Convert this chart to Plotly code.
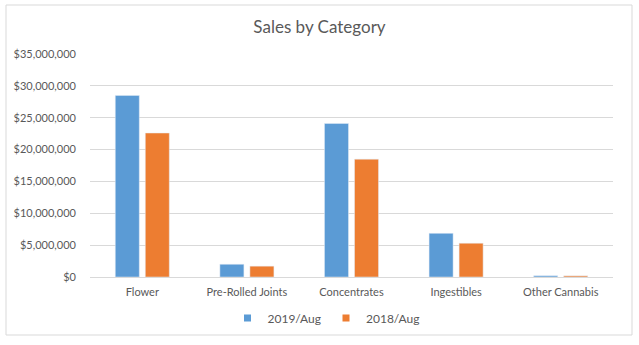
import plotly.graph_objects as go

categories = ["Flower", "Pre-Rolled Joints", "Concentrates", "Ingestibles", "Other Cannabis"]
sales_2019 = [28500000, 2000000, 24100000, 6850000, 200000]
sales_2018 = [22600000, 1700000, 18500000, 5300000, 180000]
series_names = ["2019/Aug", "2018/Aug"]
series_colors = ["#5b9bd5", "#ed7d31"]
y_ticks = [0, 5000000, 10000000, 15000000, 20000000, 25000000, 30000000, 35000000]
y_tick_labels = ["$0", "$5,000,000", "$10,000,000", "$15,000,000", "$20,000,000",
                 "$25,000,000", "$30,000,000", "$35,000,000"]

W, H = 639, 345
ML, MR, MT, MB = 90, 26, 54, 68
PW, PH = W - ML - MR, H - MT - MB

FONT = "Lato, Calibri, sans-serif"
TXT = "#595959"
GRID = "#d9d9d9"

fig = go.Figure()
for name, vals, col in zip(series_names, [sales_2019, sales_2018], series_colors):
    fig.add_trace(go.Bar(name=name, x=categories, y=vals, marker_color=col,
                         showlegend=False))
# small square legend keys
for name, col in zip(series_names, series_colors):
    fig.add_trace(go.Scatter(name=name, x=[None], y=[None], mode="markers",
                             marker=dict(symbol="square", size=7, color=col),
                             showlegend=True))


def px_to_paper_x(px):
    return (px - ML) / PW


def px_to_paper_y(py):
    return (H - MB - py) / PH


fig.update_layout(
    width=W, height=H,
    margin=dict(l=ML, r=MR, t=MT, b=MB),
    paper_bgcolor="white", plot_bgcolor="white",
    barmode="group", bargap=0.426, bargroupgap=0.2,
    font=dict(family=FONT, size=11, color=TXT),
    title=dict(text="Sales by Category", x=0.5, xref="container", xanchor="center",
               y=1 - 27 / H, yref="container", yanchor="middle",
               font=dict(family=FONT, size=17, color=TXT)),
    showlegend=True,
    legend=dict(orientation="h", x=px_to_paper_x(326), xanchor="center",
                y=px_to_paper_y(318), yanchor="middle",
                font=dict(family=FONT, size=12, color=TXT),
                itemwidth=30, traceorder="normal"),
    xaxis=dict(showgrid=False, showline=True, linecolor=GRID, linewidth=1,
               ticks="", ticklabelstandoff=5,
               tickfont=dict(family=FONT, size=11, color=TXT),
               fixedrange=True),
    yaxis=dict(range=[0, 35000000], tickvals=y_ticks, ticktext=y_tick_labels,
               showgrid=True, gridcolor=GRID, gridwidth=1, zeroline=False,
               showline=False, ticks="", ticklabelstandoff=13,
               tickfont=dict(family=FONT, size=11, color=TXT), fixedrange=True),
    shapes=[dict(type="rect", xref="paper", yref="paper",
                 x0=px_to_paper_x(6), x1=px_to_paper_x(632),
                 y0=px_to_paper_y(335), y1=px_to_paper_y(5),
                 line=dict(color=GRID, width=1), fillcolor="rgba(0,0,0,0)",
                 layer="below")],
)

fig.write_html("out.html")
